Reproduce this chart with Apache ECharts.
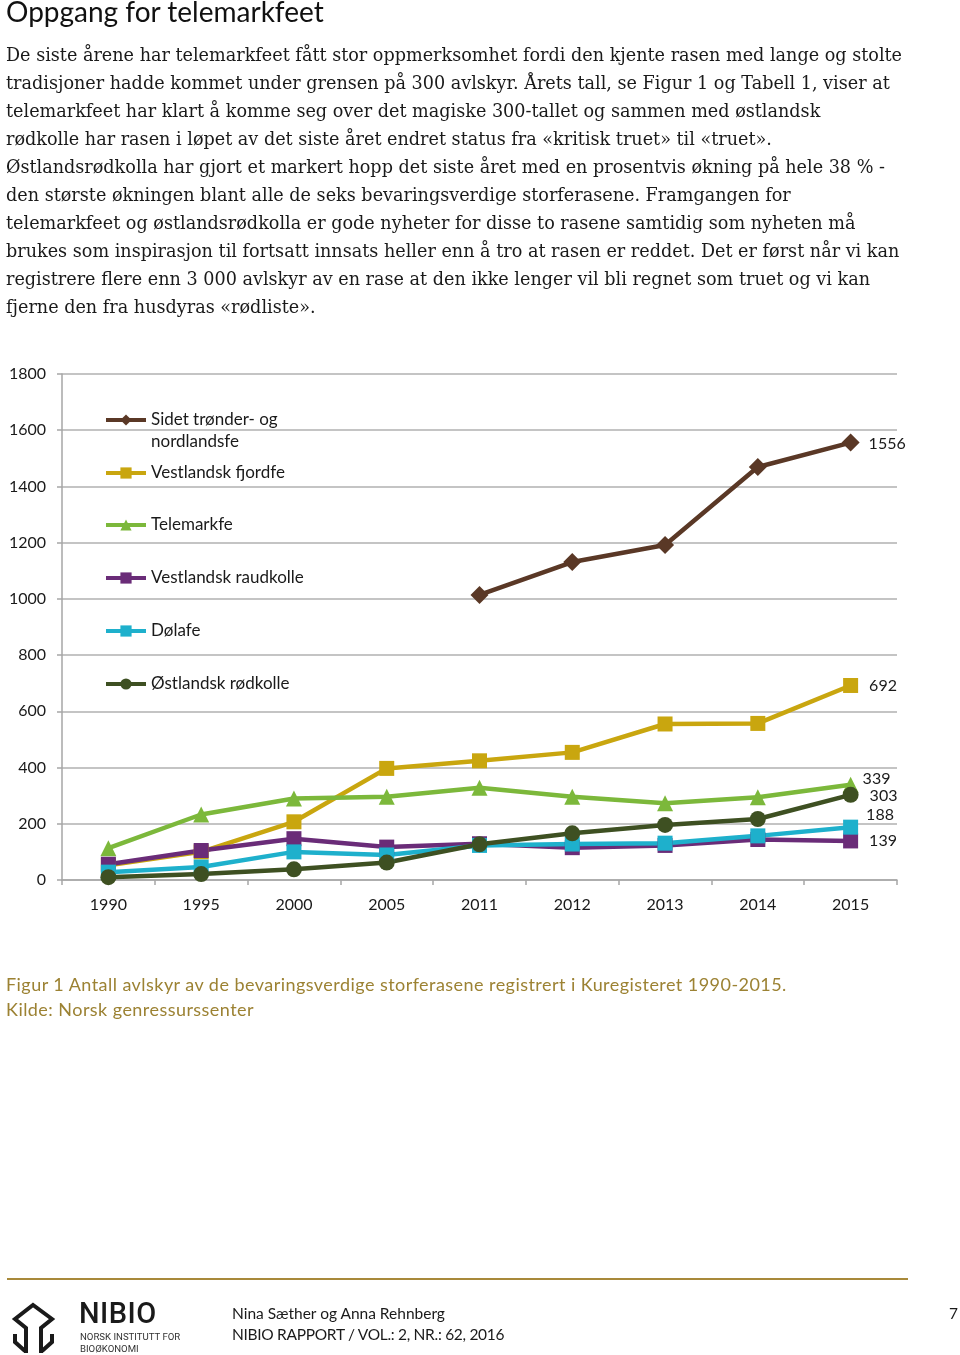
<!DOCTYPE html>
<html>
<head>
<meta charset="utf-8">
<script src="https://cdn.jsdelivr.net/npm/echarts@6/dist/echarts.min.js"></script>
<style>
  html, body { margin:0; padding:0; background:#fff; }
  #page { position:relative; width:960px; height:1355px; overflow:hidden; }
  #chart { position:absolute; left:0; top:0; width:960px; height:1355px; }
  .t { position:absolute; white-space:nowrap; color:#111; }
  #title { left:6px; top:-6px; font-family:Lato, sans-serif; font-size:28px; line-height:34px; color:#111; }
  #para { left:6px; top:41px; font-family:"DejaVu Serif", serif; font-size:18px; line-height:28px; color:#1a1a1a; }
  #caption { left:6px; top:972px; font-family:Lato, sans-serif; font-size:18px; letter-spacing:0.45px; line-height:25px; color:#9c8233; }
  #rule { position:absolute; left:7px; top:1278px; width:901px; height:2px; background:#a8893a; }
  #nibio { left:79px; top:1297px; font-family:Roboto, sans-serif; font-weight:500; font-size:29px; line-height:32px; letter-spacing:0.5px; color:#1a1a1a; }
  #nibio2 { left:80px; top:1331px; font-family:Roboto, sans-serif; font-size:9.6px; line-height:12px; color:#333; }
  #authors { left:232px; top:1303px; font-family:Lato, sans-serif; font-size:15.5px; line-height:21px; color:#1a1a1a; }
  #authors span { letter-spacing:-0.3px; }
  #pnum { left:949px; top:1303px; font-family:Lato, sans-serif; font-size:15.5px; line-height:21px; color:#1a1a1a; }
  #logo { position:absolute; left:0px; top:1295px; }
</style>
</head>
<body>
<div id="page">
  <div id="chart"></div>
  <div class="t" id="title">Oppgang for telemarkfeet</div>
  <div class="t" id="para"><span id="l1">De siste årene har telemarkfeet fått stor oppmerksomhet fordi den kjente rasen med lange og stolte</span><br>tradisjoner hadde kommet under grensen på 300 avlskyr. Årets tall, se Figur 1 og Tabell 1, viser at<br>telemarkfeet har klart å komme seg over det magiske 300-tallet og sammen med østlandsk<br>rødkolle har rasen i løpet av det siste året endret status fra «kritisk truet» til «truet».<br>Østlandsrødkolla har gjort et markert hopp det siste året med en prosentvis økning på hele 38 % -<br>den største økningen blant alle de seks bevaringsverdige storferasene. Framgangen for<br>telemarkfeet og østlandsrødkolla er gode nyheter for disse to rasene samtidig som nyheten må<br>brukes som inspirasjon til fortsatt innsats heller enn å tro at rasen er reddet. Det er først når vi kan<br>registrere flere enn 3 000 avlskyr av en rase at den ikke lenger vil bli regnet som truet og vi kan<br>fjerne den fra husdyras «rødliste».</div>
  <div class="t" id="caption">Figur 1 Antall avlskyr av de bevaringsverdige storferasene registrert i Kuregisteret 1990-2015.<br>Kilde: Norsk genressurssenter</div>
  <div id="rule"></div>
  <svg id="logo" width="80" height="60" viewBox="0 0 80 60">
    <g fill="none" stroke="#1a1a1a" stroke-width="4" stroke-linejoin="miter" stroke-linecap="butt">
      <path d="M26 58 L26 33 L15 24 L33 10 L52 24 L41 33 L41 58"/>
      <path d="M15 39 L15 47 L25 56"/>
      <path d="M52 39 L52 47 L42 56"/>
    </g>
  </svg>
  <div class="t" id="nibio">NIBIO</div>
  <div class="t" id="nibio2">NORSK INSTITUTT FOR<br>BIOØKONOMI</div>
  <div class="t" id="authors">Nina Sæther og Anna Rehnberg<br><span>NIBIO RAPPORT / VOL.: 2, NR.: 62, 2016</span></div>
  <div class="t" id="pnum">7</div>
</div>
<script>
// fit paragraph font so the first line spans the same width as in the reference
(function () {
  var l1 = document.getElementById('l1');
  var para = document.getElementById('para');
  var w = l1.getBoundingClientRect().width;
  if (w > 0) { para.style.fontSize = (18 * 897 / w).toFixed(2) + 'px'; }
})();

// ---- data ----
var years = ['1990','1995','2000','2005','2011','2012','2013','2014','2015'];
var seriesNames = ['Sidet trønder- og nordlandsfe','Vestlandsk fjordfe','Telemarkfe','Vestlandsk raudkolle','Dølafe','Østlandsk rødkolle'];
var sidetTronder = [null, null, null, null, 1014, 1131, 1192, 1469, 1556];
var vestlandskFjordfe = [52, 100, 207, 397, 424, 454, 555, 557, 692];
var telemarkfe = [113, 233, 290, 296, 328, 296, 273, 294, 339];
var vestlandskRaudkolle = [56, 105, 147, 117, 129, 115, 123, 144, 139];
var dolafe = [28, 46, 100, 89, 123, 128, 131, 157, 188];
var ostlandskRodkolle = [10, 21, 38, 62, 127, 166, 196, 217, 303];
var yTicks = [0, 200, 400, 600, 800, 1000, 1200, 1400, 1600, 1800];

// ---- styles ----
var colors = ['#5a3826', '#c9a60f', '#7cb83b', '#6a2c78', '#1eb0cc', '#3e5022'];
var symbols = ['diamond', 'rect', 'triangle', 'rect', 'rect', 'circle'];
var symbolSizes = [18, 15, 16, 15, 15, 16];
var lastLabelOffsets = [[-2, 1], [0, 0], [-7, -6], [0, 0], [-3, -12], [0, 1]];
var allData = [sidetTronder, vestlandskFjordfe, telemarkfe, vestlandskRaudkolle, dolafe, ostlandskRodkolle];
var legendCenters = [420, 473, 525, 578, 631, 684];
var FONT = 'Lato, sans-serif';

var series = allData.map(function (arr, i) {
  var last = arr.length - 1;
  return {
    name: seriesNames[i],
    type: 'line',
    data: arr.map(function (v, j) {
      if (j === last) {
        return { value: v, label: { show: true, position: 'right', distance: 11, offset: lastLabelOffsets[i],
          color: '#1a1a1a', fontFamily: FONT, fontSize: 16, formatter: '{c}' } };
      }
      return v;
    }),
    symbol: symbols[i],
    symbolSize: symbolSizes[i],
    showAllSymbol: true,
    connectNulls: false,
    lineStyle: { color: colors[i], width: 4.5 },
    itemStyle: { color: colors[i] },
    emphasis: { disabled: true },
    animation: false
  };
});

var legends = seriesNames.map(function (n, i) {
  var isFirst = i === 0;
  return {
    show: true,
    orient: 'vertical',
    left: 104,
    top: isFirst ? legendCenters[i] - 33 : legendCenters[i] - 11,
    padding: 0,
    itemWidth: 40,
    itemHeight: 14,
    selectedMode: false,
    lineStyle: { width: 4 },
    data: [{ name: n }],
    formatter: isFirst ? function () { return ' \nSidet trønder- og\nnordlandsfe'; } : '{name}',
    textStyle: { fontFamily: FONT, fontSize: 17, color: '#1a1a1a', lineHeight: 22 }
  };
});

var chart = echarts.init(document.getElementById('chart'), null, { renderer: 'canvas' });
chart.setOption({
  animation: false,
  grid: { left: 62, right: 63, top: 374, height: 506, containLabel: false },
  legend: legends,
  xAxis: {
    type: 'category',
    data: years,
    boundaryGap: true,
    axisLine: { show: true, lineStyle: { color: '#a6a6a6', width: 1.5 } },
    axisTick: { show: true, alignWithLabel: false, length: 5, lineStyle: { color: '#a6a6a6', width: 1.5 } },
    axisLabel: { color: '#1a1a1a', fontFamily: FONT, fontSize: 16, margin: 17 }
  },
  yAxis: {
    type: 'value',
    min: 0, max: 1800, interval: 200,
    axisLine: { show: true, lineStyle: { color: '#a6a6a6', width: 1.5 } },
    axisTick: { show: true, length: 5, lineStyle: { color: '#a6a6a6', width: 1.5 } },
    splitLine: { show: true, lineStyle: { color: '#b0b0b0', width: 1.5 } },
    axisLabel: { color: '#1a1a1a', fontFamily: FONT, fontSize: 16, margin: 16,
      formatter: function (v) { return yTicks.indexOf(v) >= 0 ? String(v) : ''; } }
  },
  series: series
});
</script>
</body>
</html>
